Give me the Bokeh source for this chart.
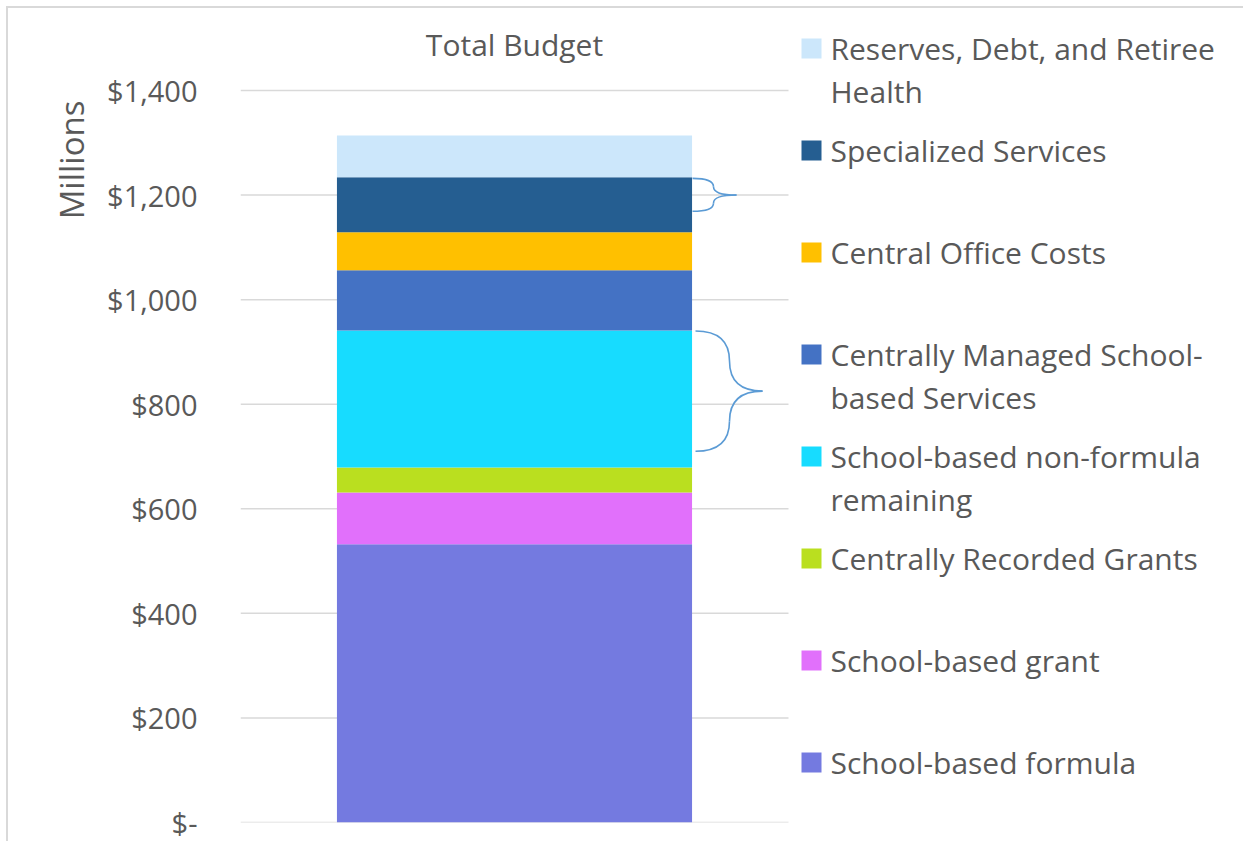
from bokeh.plotting import figure
from bokeh.models import FixedTicker, ColumnDataSource, Range1d, Title
from bokeh.core.properties import value
from bokeh.embed import file_html
from bokeh.resources import INLINE

# ---------------- data ----------------
categories = ["Total Budget"]
series_names = [
    "School-based formula",
    "School-based grant",
    "Centrally Recorded Grants",
    "School-based non-formula remaining",
    "Centrally Managed School-based Services",
    "Central Office Costs",
    "Specialized Services",
    "Reserves, Debt, and Retiree Health",
]
series_values = [532, 99, 48, 262, 115, 73, 105, 80]
series_colors = ["#747AE0", "#E170FB", "#BADF1F", "#17DCFF",
                 "#4472C4", "#FFC000", "#255E91", "#CCE7FB"]
legend_labels = [
    "School-based formula",
    "School-based grant",
    "Centrally Recorded Grants",
    "School-based non-formula\nremaining",
    "Centrally Managed School-\nbased Services",
    "Central Office Costs",
    "Specialized Services",
    "Reserves, Debt, and Retiree\nHealth",
]
tick_values = [0, 200, 400, 600, 800, 1000, 1200, 1400]
tick_labels = ["$-", "$200", "$400", "$600", "$800", "$1,000", "$1,200", "$1,400"]
# braces: (bottom, top, tip) in millions
brace_spans = [(1169, 1232, 1200), (710, 940, 825)]

# ---------------- layout constants ----------------
FONT = "Open Sans"
TXT = "#595959"
FS = "30px"
O = 8                                   # canvas offset on the page
W, H = 1237, 835
unit_px = (822 - 90) / 1400.0          # px per million
frame_top, zero_y, frame_left = 20, 822, 240   # page coordinates
y_end = (zero_y - frame_top) / unit_px
x_end = (W + O - frame_left) / 548.0


def py(y):
    return (zero_y - y) / unit_px


def px(x):
    return (x - frame_left) / 548.0


p = figure(width=W, height=H, output_backend="svg", toolbar_location=None,
           x_range=Range1d(0, x_end), y_range=Range1d(0, y_end),
           min_border_left=frame_left - O, min_border_right=0,
           min_border_top=frame_top - O, min_border_bottom=H + O - zero_y)
p.styles = {"margin": "6px 0 0 6px",
            "border-left": "2px solid #D9D9D9",
            "border-top": "2px solid #D9D9D9"}
p.outline_line_color = None
p.xaxis.visible = False
p.xgrid.visible = False
p.ygrid.visible = False

ax = p.yaxis[0]
ax.ticker = FixedTicker(ticks=tick_values)
ax.major_label_overrides = {v: l for v, l in zip(tick_values, tick_labels)}
ax.axis_line_color = None
ax.major_tick_line_color = None
ax.minor_tick_line_color = None
ax.major_tick_in = 0
ax.major_tick_out = 0
ax.major_label_standoff = 43
ax.major_label_text_font = FONT
ax.major_label_text_font_size = "29px"
ax.major_label_text_color = TXT

# unit label on the left, near the top
p.add_layout(Title(text="Millions", align="right", offset=80, standoff=22,
                   text_font=FONT, text_font_size="33px", text_font_style="normal",
                   text_color=TXT), "left")

# gridlines across the plot area only
p.segment(x0=[0] * len(tick_values), x1=[1] * len(tick_values),
          y0=tick_values, y1=tick_values, line_color="#D9D9D9", line_width=1.5)

# stacked bar
data = {"x": [0.5]}
for n, v in zip(series_names, series_values):
    data[n] = [v]
src = ColumnDataSource(data)
p.vbar_stack(series_names, x="x", width=0.648, color=series_colors,
             source=src, line_color=None)

# braces
bx = [(px(692), px(713), px(736)), (px(695), px(729), px(762))]
for (lo, hi, tip), (x0, xm, x1) in zip(brace_spans, bx):
    m1 = (hi + tip) / 2.0
    m2 = (lo + tip) / 2.0
    p.quadratic(x0=[x0, xm, x0, xm], y0=[hi, m1, lo, m2],
                x1=[xm, x1, xm, x1], y1=[m1, tip, m2, tip],
                cx=[xm, xm, xm, xm], cy=[hi, tip, lo, tip],
                line_color="#5B9BD5", line_width=1.6)

# title
p.text(x=[0.5], y=[py(43.5)], text=[categories[0]], text_font=value(FONT),
       text_font_size=FS, text_color=TXT, text_align="center",
       text_baseline="middle")

# legend (top item first)
leg_x_sq = px(811)
leg_x_tx = px(830)
sq_x, sq_y, tx_x, tx_y, tx_t = [], [], [], [], []
for i, lab in enumerate(legend_labels[::-1]):
    cy = 48 + i * 102
    sq_x.append(leg_x_sq)
    sq_y.append(py(cy))
    for j, line in enumerate(lab.split("\n")):
        tx_x.append(leg_x_tx)
        tx_y.append(py(cy + j * 42.7))
        tx_t.append(line)
p.scatter(x=sq_x, y=sq_y, marker="square", size=20,
          fill_color=series_colors[::-1], line_color=None)
p.text(x=tx_x, y=tx_y, text=tx_t, text_font=value(FONT), text_font_size=FS,
       text_color=TXT, text_align="left", text_baseline="middle")

open("out.html", "w").write(file_html(p, INLINE))
